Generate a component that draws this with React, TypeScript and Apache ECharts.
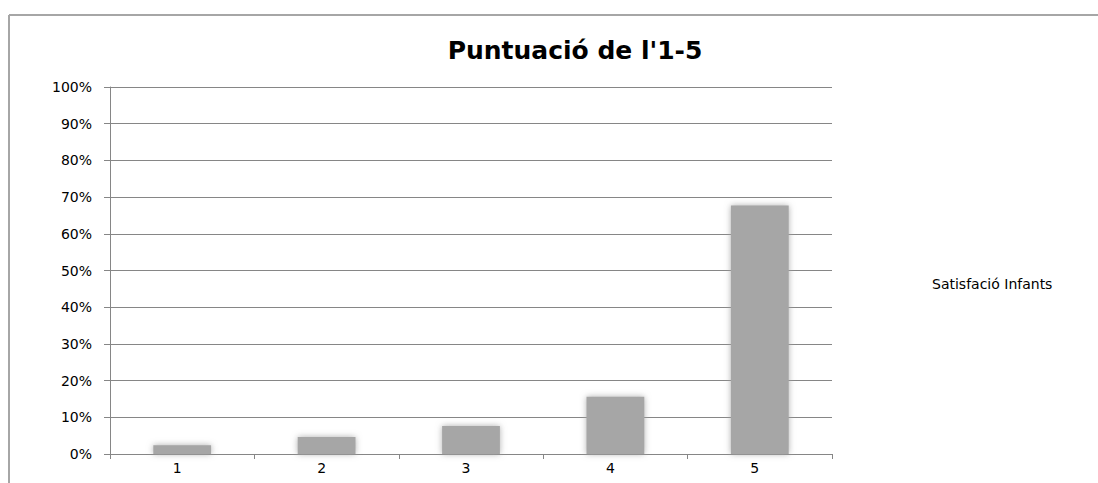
import React, { useEffect, useRef } from "react";
import * as echarts from "echarts";

const categories = ["1", "2", "3", "4", "5"];
const values = [2.4, 4.6, 7.6, 15.6, 67.7];
const seriesName = "Satisfació Infants";
const titleText = "Puntuació de l'1-5";

export default function App() {
  const ref = useRef<HTMLDivElement>(null);
  useEffect(() => {
    if (!ref.current) return;
    const chart = echarts.init(ref.current, undefined, { renderer: "svg" });
    const font = "DejaVu Sans";
    chart.setOption({
      animation: false,
      backgroundColor: "#ffffff",
      title: {
        text: titleText,
        left: 570,
        textAlign: "center",
        top: 33,
        textStyle: { fontFamily: font, fontWeight: "bold", fontSize: 25, color: "#000" },
      },
      legend: {
        show: true,
        left: 922,
        top: 272,
        icon: "none",
        itemWidth: 0,
        itemGap: 0,
        data: [seriesName],
        textStyle: { fontFamily: font, fontSize: 14, color: "#000", padding: 0 },
      },
      grid: { left: 110, right: 266, top: 87, bottom: 29, containLabel: false },
      xAxis: {
        type: "category",
        data: categories,
        boundaryGap: true,
        axisLine: { lineStyle: { color: "#868686", width: 1 } },
        axisTick: { show: true, length: 5, inside: false, lineStyle: { color: "#868686" } },
        axisLabel: { fontFamily: font, fontSize: 14, color: "#000", margin: 7, padding: [0, 10, 0, 0] },
        splitLine: { show: false },
      },
      yAxis: {
        type: "value",
        min: 0,
        max: 100,
        interval: 10,
        axisLine: { show: true, lineStyle: { color: "#868686", width: 1 } },
        axisTick: { show: true, length: 6, lineStyle: { color: "#868686" } },
        axisLabel: { fontFamily: font, fontSize: 14, color: "#000", margin: 18, formatter: "{value}%" },
        splitLine: { show: true, lineStyle: { color: "#868686", width: 1 } },
      },
      series: [
        {
          name: seriesName,
          type: "bar",
          data: values,
          barWidth: "40%",
          itemStyle: { color: "#a6a6a6", shadowBlur: 6, shadowColor: "rgba(166,166,166,0.9)" },
        },
      ],
      graphic: [
        { type: "line", shape: { x1: 9, y1: 15, x2: 1098, y2: 15 }, style: { stroke: "#a6a6a6", lineWidth: 2 } },
        { type: "line", shape: { x1: 9, y1: 15, x2: 9, y2: 483 }, style: { stroke: "#a6a6a6", lineWidth: 2 } },
      ],
    });
    return () => chart.dispose();
  }, []);
  return <div ref={ref} style={{ width: 1098, height: 483, position: "absolute", left: 0, top: 0 }} />;
}
